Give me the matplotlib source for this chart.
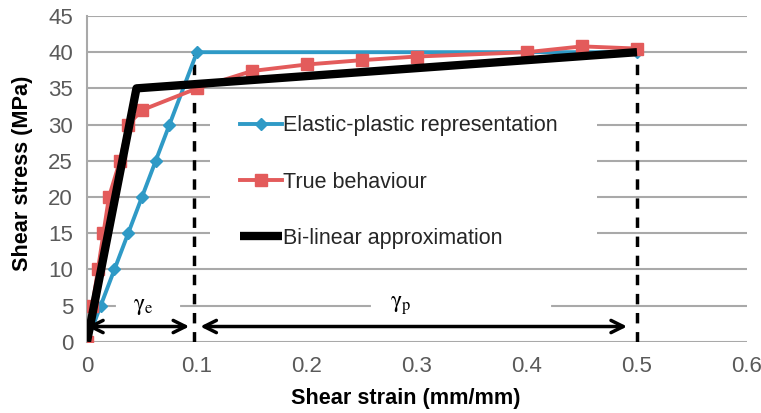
import matplotlib
matplotlib.use("Agg")
import matplotlib.pyplot as plt
from matplotlib.patches import Rectangle

plt.rcParams['font.family'] = ['Liberation Sans', 'DejaVu Sans']

# Elastic-plastic representation
ep_strain = [0, 0.0125, 0.025, 0.0375, 0.05, 0.0625, 0.075, 0.1, 0.4, 0.5]
ep_stress = [0, 5, 10, 15, 20, 25, 30, 40, 40, 40]

# True behaviour
tb_strain = [0, 0.005, 0.01, 0.015, 0.02, 0.03, 0.0375, 0.05, 0.1, 0.15, 0.2, 0.25, 0.3, 0.4, 0.45, 0.5]
tb_stress = [0, 5, 10, 15, 20, 25, 30, 32, 35, 37.4, 38.3, 38.9, 39.4, 40, 40.8, 40.5]

# Bi-linear approximation
bl_strain = [0, 0.045, 0.5]
bl_stress = [0, 35, 40]

# Strain limits for the elastic and plastic ranges
gamma_e_end = 0.097
gamma_p_end = 0.5
limit_stress = 40

xticks = [0, 0.1, 0.2, 0.3, 0.4, 0.5, 0.6]
xtick_labels = ['0', '0.1', '0.2', '0.3', '0.4', '0.5', '0.6']
yticks = [0, 5, 10, 15, 20, 25, 30, 35, 40, 45]

blue = '#2f9ac6'
red = '#e35b5b'
grid_c = '#a9a9a9'
tick_c = '#5a5a5a'

fig = plt.figure(figsize=(7.61, 4.13), dpi=100)
ax = fig.add_axes([0.1143, 0.1726, 0.8673, 0.7887])

ax.set_xlim(0, 0.6)
ax.set_ylim(0, 45)
ax.set_xticks(xticks)
ax.set_xticklabels(xtick_labels)
ax.set_yticks(yticks)
ax.tick_params(length=0, labelsize=16, colors=tick_c)
ax.tick_params(axis='x', pad=10)
ax.tick_params(axis='y', pad=10)
ax.yaxis.grid(True, color=grid_c, lw=1.5, zorder=0)
ax.set_axisbelow(True)
for s in ['top', 'right', 'bottom']:
    ax.spines[s].set_visible(False)
ax.spines['left'].set_color(grid_c)
ax.spines['left'].set_linewidth(1.5)

# white backing behind the legend entries
ax.add_patch(Rectangle((0.112, 12.0), 0.352, 21.5, facecolor='white',
                       edgecolor='none', zorder=1))

# dashed strain limits
ax.plot([gamma_e_end, gamma_e_end], [0, limit_stress], color='black', lw=2.5,
        ls=(0, (3, 2.5)), zorder=3)
ax.plot([gamma_p_end, gamma_p_end], [0, limit_stress], color='black', lw=2.5,
        ls=(0, (3, 2.5)), zorder=3)

ax.plot(ep_strain, ep_stress, color=blue, lw=2.8, marker='D', ms=6,
        label='Elastic-plastic representation', zorder=4)
ax.plot(tb_strain, tb_stress, color=red, lw=2.8, marker='s', ms=8,
        label='True behaviour', zorder=5)
ax.plot(bl_strain, bl_stress, color='black', lw=6, solid_capstyle='butt',
        label='Bi-linear approximation', zorder=6)

# strain range arrows
arrow_kw = dict(arrowstyle='<->', lw=2.5, color='black', mutation_scale=22,
                shrinkA=0, shrinkB=0)
ax.annotate('', xy=(0.0, 2.1), xytext=(0.093, 2.1), arrowprops=arrow_kw, zorder=7)
ax.annotate('', xy=(0.103, 2.1), xytext=(0.491, 2.1), arrowprops=arrow_kw, zorder=7)

ax.text(0.051, 5.0, r'$\mathrm{\gamma_e}$', fontsize=17, ha='center', va='center',
        math_fontfamily='stix', zorder=2)
ax.text(0.285, 5.0, r'$\mathrm{\gamma_p}$', fontsize=17, ha='center', va='center',
        math_fontfamily='stix', zorder=2)
# white gap in the 5 MPa grid line around the labels
ax.plot([0.028, 0.083], [5, 5], color='white', lw=3, zorder=1)
ax.plot([0.26, 0.42], [5, 5], color='white', lw=3, zorder=1)

leg = ax.legend(loc='upper left', bbox_to_anchor=(0.2318, 0.695), frameon=False,
                fontsize=15.5, handlelength=1.95, handletextpad=0.05,
                labelspacing=1.64, borderpad=0, borderaxespad=0)
for t in leg.get_texts():
    t.set_color('#262626')

ax.set_xlabel('Shear strain (mm/mm)', fontsize=15.6, fontweight='bold')
ax.set_ylabel('Shear stress (MPa)', fontsize=15.6, fontweight='bold')
ax.xaxis.set_label_coords(0.483, -0.142)
ax.yaxis.set_label_coords(-0.082, 0.518)

fig.savefig('out.png', dpi=100)
